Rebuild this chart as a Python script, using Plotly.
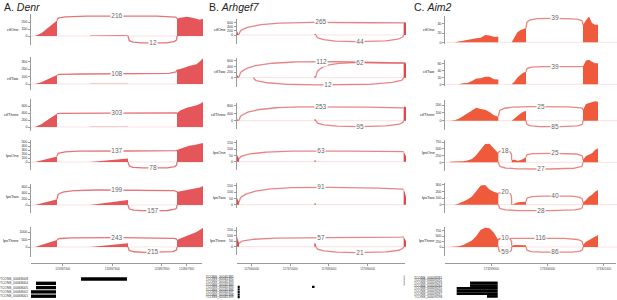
import numpy as np
import plotly.graph_objects as go

W, H = 617, 300
FONT = "Liberation Sans, Arial, sans-serif"

TRACKS = ["ctlOne", "ctlTwo", "ctlThree", "lpsOne", "lpsTwo", "lpsThree"]

# ---------------- Panel A : Denr (positions = bp from window start) ----------------
A_exons = [(16, 104), (236, 388), (584, 688)]
A_ctlOne = [[0, 15, 40, 75, 110, 145, 180, 220], [6, 8, 10, 12, 13, 12, 10, 8],
            [250, 262, 272, 276, 268, 262, 248, 232, 245]]
A_ctlTwo = [[0, 10, 25, 45, 65, 85, 100, 120], [4, 5, 6, 8, 8, 7, 6, 5],
            [190, 200, 215, 235, 245, 253, 265, 300, 345]]
A_ctlThree = [[0, 30, 80, 140, 200, 260, 320, 380], [5, 5, 6, 6, 6, 5, 5, 5],
              [400, 470, 520, 550, 570, 590, 620, 660, 715]]
A_lpsOne = [[0, 20, 40, 60, 85, 105, 125, 140], [0, 15, 30, 45, 58, 70, 85, 90],
            [300, 330, 355, 390, 410, 420, 435, 460, 475]]
A_lpsTwo = [[0, 20, 45, 75, 105, 135, 165, 190], [0, 25, 50, 75, 100, 125, 150, 167],
            [440, 460, 480, 500, 510, 530, 550, 580, 630]]
A_lpsThree = [[0, 60, 130, 200, 270, 340, 410, 465], [0, 35, 70, 105, 140, 175, 210, 244],
              [470, 560, 640, 720, 800, 900, 1000, 1130, 1280]]
# junctions: (start, end, count, arc apex)
A_ctlOne_jx = [(104, 584, 216, 285), (388, 584, 12, -100)]
A_ctlTwo_jx = [(104, 584, 108, 133)]
A_ctlThree_jx = [(104, 584, 303, 395)]
A_lpsOne_jx = [(104, 584, 137, 275), (388, 584, 78, -150)]
A_lpsTwo_jx = [(104, 584, 199, 500), (388, 584, 157, -190)]
A_lpsThree_jx = [(104, 584, 243, 620), (388, 584, 215, -353)]
A_ticks = [[0, 100, 200], [0, 100, 200, 300], [0, 200, 400, 600], [0, 100, 200, 300, 400, 500],
           [0, 200, 400, 600], [0, 500, 1000]]
A_tick_pos = [128, 328, 528, 628]
A_tick_labels = ["120867400", "120867600", "120867800", "120867900"]
A_tx = ["TCONS_00068008", "TCONS_00068004", "TCONS_00068005", "TCONS_00068002", "TCONS_00068001"]
A_tx_exons = [[(200, 384)], [(20, 100)], [(20, 100)], [(0, 100)], [(0, 100)]]

# ---------------- Panel B : Arhgef7 ----------------
B_exons = [(0, 600), (19900, 20300), (42800, 43400)]
B_ctlOne = [[200, 100, 30], [40, 50, 40], [580, 620, 560]]
B_ctlTwo = [[120, 60, 20], [40, 60, 40], [520, 560, 500]]
B_ctlThree = [[100, 50, 20], [60, 80, 60], [700, 780, 720]]
B_lpsOne = [[60, 40, 20], [10, 10, 10], [80, 60, 40]]
B_lpsTwo = [[60, 40, 20], [10, 10, 10], [120, 100, 60]]
B_lpsThree = [[100, 60, 30], [30, 30, 20], [90, 70, 50]]
B_ctlOne_jx = [(600, 42800, 265, 600), (20300, 42800, 44, -320)]
B_ctlTwo_jx = [(600, 42800, 112, 571), (20300, 42800, 62, 536), (4260, 42800, 12, -260)]
B_ctlThree_jx = [(600, 42800, 253, 760), (20300, 42800, 95, -326)]
B_lpsOne_jx = [(600, 42800, 63, 84)]
B_lpsTwo_jx = [(600, 42800, 91, 139)]
B_lpsThree_jx = [(600, 42800, 57, 81), (20300, 42800, 21, -54)]
B_ticks = [[0, 200, 400, 600], [0, 200, 400, 600], [0, 400, 800], [0, 50, 100, 150],
           [0, 50, 100, 150], [0, 50, 100, 150]]
B_tick_pos = [3850, 13850, 23850, 33850]
B_tick_labels = ["117660000", "117670000", "117680000", "117690000"]
B_tx = ["TCONS_00045391", "TCONS_00045392", "TCONS_00045393", "TCONS_00045394", "TCONS_00045395",
        "TCONS_00045396", "TCONS_00045397", "TCONS_00045398", "TCONS_00045399"]
B_tx_exons = [[(42820, 42950)], [(42820, 42950)], [(42820, 42950)], [(42820, 42950)],
              [(300, 700), (19300, 19950)], [(300, 700)], [(300, 700)], [(300, 700)], [(300, 700)]]

# ---------------- Panel C : Aim2 ----------------
C_exons = [(88, 940), (1176, 1429), (2434, 2699)]
C_ctlOne = [[0, 0, 2, 4, 5, 8, 9, 10, 16, 15, 12, 12], [0, 10, 22, 26, 29, 31], [38, 48, 56, 42, 38, 38]]
C_ctlTwo = [[0, 0, 0, 3, 4, 10, 17, 18, 22, 22, 15, 14], [0, 8, 20, 28, 34, 37], [52, 70, 72, 66, 62, 62]]
C_ctlThree = [[0, 5, 25, 60, 95, 135, 165, 150, 140, 110, 70, 51], [0, 25, 60, 90, 115, 124],
              [137, 215, 230, 240, 250, 243]]
C_lpsOne = [[20, 25, 30, 40, 70, 120, 270, 480, 680, 690, 500, 333], [86, 90, 55, 80, 120, 200],
            [90, 235, 272, 333, 457, 519]]
C_lpsTwo = [[0, 0, 20, 50, 80, 125, 210, 290, 300, 230, 195, 172], [0, 20, 35, 40, 45, 45],
            [30, 71, 121, 150, 197, 222]]
C_lpsThree = [[0, 0, 30, 90, 180, 300, 500, 780, 880, 850, 650, 318], [60, 90, 90, 90, 85, 80],
              [91, 240, 318, 394, 470, 545]]
C_ctlOne_jx = [(1429, 2434, 39, 52)]
C_ctlTwo_jx = [(1429, 2434, 39, 52)]
C_ctlThree_jx = [(940, 2434, 25, 180), (1429, 2434, 85, -77)]
C_lpsOne_jx = [(940, 1176, 18, 418), (1429, 2434, 25, 333), (940, 2434, 27, -248)]
C_lpsTwo_jx = [(940, 1176, 20, 185), (1429, 2434, 40, 132), (940, 2434, 28, -91)]
C_lpsThree_jx = [(940, 1176, 10, 395), (940, 2434, 116, 395), (940, 1176, 59, -240), (1429, 2434, 86, -240)]
C_ticks = [[0, 20, 40], [0, 20, 40, 60], [0, 100, 200], [0, 250, 500, 750], [0, 100, 200, 300],
           [0, 250, 500, 750]]
C_tick_pos = [824, 1824, 2824]
C_tick_labels = ["173299000", "173300000", "173301000"]
C_tx = ["TCONS_00009291", "TCONS_00009292", "TCONS_00009293", "TCONS_00009294",
        "TCONS_00009295", "TCONS_00009296", "TCONS_00009297", "TCONS_00009298"]
C_tx_exons = [[], [], [(441, 930)], [(441, 930)], [(206, 930)], [(206, 930)], [(206, 930)], [(741, 930)]]

# ---------------- layout geometry (pixels) ----------------
PANELS = [
    dict(letter="A. ", gene="Denr", x_px=(31, 203), xmax=688, exons=A_exons,
         cov=[A_ctlOne, A_ctlTwo, A_ctlThree, A_lpsOne, A_lpsTwo, A_lpsThree],
         jx=[A_ctlOne_jx, A_ctlTwo_jx, A_ctlThree_jx, A_lpsOne_jx, A_lpsTwo_jx, A_lpsThree_jx],
         ticks=A_ticks, tpos=A_tick_pos, tlab=A_tick_labels, tx=A_tx, txe=A_tx_exons,
         tx_row0=279.0, tx_sp=4.3, tx_w=0.78,
         rows=[(14, 45, 36, 0.07), (57, 90, 84, 0.075), (99, 131, 127, 0.035),
               (140, 170, 162, 0.04), (184, 213, 205, 0.03), (227, 257, 247, 0.015)],
         lab_y=[29.3, 78, 114.3, 155.7, 196.7, 240], lab_x=21, title_x=2,
         fill="#e5565a", arc="rgba(222,80,85,0.8)", n=4),
    dict(letter="B. ", gene="Arhgef7", x_px=(236.7, 406), xmax=43400, exons=B_exons,
         cov=[B_ctlOne, B_ctlTwo, B_ctlThree, B_lpsOne, B_lpsTwo, B_lpsThree],
         jx=[B_ctlOne_jx, B_ctlTwo_jx, B_ctlThree_jx, B_lpsOne_jx, B_lpsTwo_jx, B_lpsThree_jx],
         ticks=B_ticks, tpos=B_tick_pos, tlab=B_tick_labels, tx=B_tx, txe=B_tx_exons,
         tx_row0=276.7, tx_sp=2.55, tx_w=0.9,
         rows=[(19, 44, 35, 0.021), (58, 87, 77.7, 0.028), (103, 129, 120.7, 0.0184),
               (140, 170, 161.7, 0.127), (183, 208, 204.7, 0.125), (227, 255, 246.7, 0.111)],
         lab_y=[29, 71.7, 114, 152.7, 197.3, 240], lab_x=228, title_x=207,
         fill="#e0474c", arc="rgba(222,80,85,0.7)", n=2.5),
    dict(letter="C. ", gene="Aim2", x_px=(445, 617), xmax=3034, exons=C_exons,
         cov=[C_ctlOne, C_ctlTwo, C_ctlThree, C_lpsOne, C_lpsTwo, C_lpsThree],
         jx=[C_ctlOne_jx, C_ctlTwo_jx, C_ctlThree_jx, C_lpsOne_jx, C_lpsTwo_jx, C_lpsThree_jx],
         ticks=C_ticks, tpos=C_tick_pos, tlab=C_tick_labels, tx=C_tx, txe=C_tx_exons,
         tx_row0=277.5, tx_sp=2.7, tx_w=1.0,
         rows=[(16, 44, 42.3, 0.46), (60, 86, 84.3, 0.34), (100, 130, 120.7, 0.078),
               (140, 171, 162.3, 0.027), (183, 213, 204.7, 0.066), (227, 256, 247, 0.022)],
         lab_y=[29.3, 71.7, 114, 152.7, 197.3, 240], lab_x=437, title_x=412,
         fill="#ef5a3c", arc="rgba(225,95,85,0.75)", n=4),
]

fig = go.Figure()
layout = {}
annotations = []
count = [0]


def new_axes(xpx, ypx, xrange, yrange, xkw=None, ykw=None):
    count[0] += 1
    k = count[0]
    s = "" if k == 1 else str(k)
    xa = dict(domain=[xpx[0] / W, min(1, xpx[1] / W)], range=list(xrange), anchor="y" + s,
              visible=False, fixedrange=True, showgrid=False, zeroline=False)
    ya = dict(domain=[1 - ypx[1] / H, 1 - ypx[0] / H], range=list(yrange), anchor="x" + s,
              visible=False, fixedrange=True, showgrid=False, zeroline=False)
    if xkw:
        xa.update(xkw)
    if ykw:
        ya.update(ykw)
    layout["xaxis" + s] = xa
    layout["yaxis" + s] = ya
    return "x" + s, "y" + s


def end_val(exons, vals, x):
    for (s, e), v in zip(exons, vals):
        if e == x:
            return v[-1]
    return 0


def start_val(exons, vals, x):
    for (s, e), v in zip(exons, vals):
        if s == x:
            return v[0]
    return 0


def arc_xy(x0, x1, y0, y1, apex, n):
    t = np.linspace(0, 1, 120)
    f = (1 - np.abs(2 * t - 1) ** n) ** (1 / n)
    yb = y0 + (y1 - y0) * t
    return x0 + (x1 - x0) * t, yb + (apex - yb) * f


AXC = "#9a9a9a"
for P in PANELS:
    annotations.append(dict(x=P["title_x"] / W, y=1 - 6.5 / H, xref="paper", yref="paper",
                            text=P["letter"] + "<i>" + P["gene"] + "</i>", showarrow=False,
                            xanchor="left", yanchor="middle",
                            font=dict(size=10.5, color="#222", family=FONT)))
    for r, name in enumerate(TRACKS):
        top, bot, zero, sc = P["rows"][r]
        yr = (-(bot - zero) / sc, (zero - top) / sc)
        xr, yrf = new_axes(P["x_px"], (top, bot), (0, P["xmax"]), yr,
                           ykw=dict(visible=True, showline=True, linecolor=AXC, linewidth=0.8,
                                    ticks="outside", ticklen=2, tickwidth=0.6, tickcolor=AXC,
                                    tickvals=P["ticks"][r], showticklabels=True,
                                    tickfont=dict(size=3.6, color="#333", family=FONT)))
        vals = P["cov"][r]
        fig.add_trace(go.Scatter(x=[0, P["xmax"]], y=[0, 0], mode="lines", xaxis=xr, yaxis=yrf,
                                 line=dict(color="rgba(230,110,110,0.3)", width=0.7),
                                 hoverinfo="skip"))
        xs, ys = [], []
        for (s, e), v in zip(P["exons"], vals):
            px = np.linspace(s, e, len(v))
            xs += [s] + list(px) + [e, None]
            ys += [0] + list(v) + [0, None]
        fig.add_trace(go.Scatter(x=xs, y=ys, mode="lines", fill="toself", fillcolor=P["fill"],
                                 line=dict(width=0, color=P["fill"]), xaxis=xr, yaxis=yrf,
                                 hoverinfo="skip"))
        for (x0, x1, cnt, apex) in P["jx"][r]:
            if apex > 0:
                y0 = end_val(P["exons"], vals, x0)
                y1 = start_val(P["exons"], vals, x1)
            else:
                y0 = y1 = 0
            ax_, ay_ = arc_xy(x0, x1, y0, y1, apex, P["n"])
            fig.add_trace(go.Scatter(x=ax_, y=ay_, mode="lines", xaxis=xr, yaxis=yrf,
                                     line=dict(color=P["arc"], width=1.3), hoverinfo="skip"))
            annotations.append(dict(x=(x0 + x1) / 2, y=apex, xref=xr, yref=yrf, text=str(cnt),
                                    showarrow=False, bgcolor="white", borderpad=0.3,
                                    font=dict(size=6.5, color="#666", family=FONT)))
        annotations.append(dict(x=P["lab_x"] / W, y=1 - P["lab_y"][r] / H, xref="paper", yref="paper",
                                text=name, showarrow=False, xanchor="right", yanchor="middle",
                                font=dict(size=4, color="#222", family=FONT)))
    # genomic coordinate axis
    xr, yrf = new_axes((P["x_px"][0], P["x_px"][1] - 1.5), (261.5, 263), (0, P["xmax"]), (0, 1),
                       xkw=dict(visible=True, showline=True, linecolor=AXC, linewidth=0.8,
                                ticks="outside", ticklen=2, tickwidth=0.6, tickcolor=AXC,
                                tickvals=P["tpos"], ticktext=P["tlab"],
                                tickfont=dict(size=3, color="#444", family=FONT)))
    fig.add_trace(go.Scatter(x=[0], y=[0], mode="markers", marker=dict(opacity=0), xaxis=xr,
                             yaxis=yrf, hoverinfo="skip"))
    # transcript models
    n = len(P["tx"])
    top_i = (275 - P["tx_row0"]) / P["tx_sp"]
    bot_i = (300 - P["tx_row0"]) / P["tx_sp"]
    xr, yrf = new_axes(P["x_px"], (275, 300), (0, P["xmax"]), (bot_i, top_i),
                       ykw=dict(visible=True, showline=False, ticks="", tickvals=list(range(n)),
                                ticktext=P["tx"], ticklabelstandoff=2,
                                tickfont=dict(size=3.3, color="#333", family=FONT)))
    bx, bb, by, bc = [], [], [], []
    for i, exs in enumerate(P["txe"]):
        for (s, e) in exs:
            bb.append(s)
            bx.append(e - s)
            by.append(i)
            bc.append("#999999" if P["letter"] == "B. " and i < 4 else "black")
    fig.add_trace(go.Bar(x=bx, base=bb, y=by, orientation="h", width=P["tx_w"], xaxis=xr, yaxis=yrf,
                         marker=dict(color=bc, line=dict(width=0)), hoverinfo="skip"))

fig.update_layout(**layout)
fig.update_layout(width=W, height=H, margin=dict(l=0, r=0, t=0, b=0), showlegend=False,
                  paper_bgcolor="white", plot_bgcolor="white", annotations=annotations,
                  font=dict(family=FONT))
fig.write_html("out.html", config={"displayModeBar": False},
               post_script="document.body.style.margin='0';")
